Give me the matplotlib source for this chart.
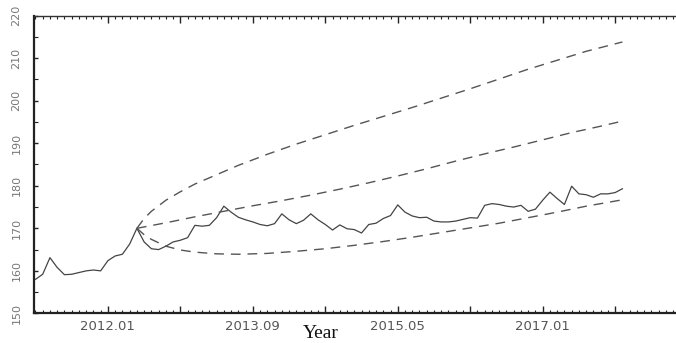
import numpy as np
import matplotlib.pyplot as plt
from matplotlib.ticker import MultipleLocator, FixedLocator


def month_index(label):
    """'2012.01' -> months since 2012.01"""
    y, m = label.split(".")
    return (int(y) - 2012) * 12 + int(m) - 1


# observed monthly series, 2011.03 .. 2017.12
obs_start = "2011.03"
observed = [
    158.0, 159.2, 163.1, 160.8, 159.1, 159.2, 159.6, 160.0, 160.2, 160.0,
    162.4, 163.5, 163.9, 166.3, 170.0, 166.8, 165.2, 165.0, 165.8, 166.8,
    167.2, 167.8, 170.7, 170.5, 170.7, 172.5, 175.2, 173.8, 172.6, 172.0,
    171.5, 170.9, 170.6, 171.1, 173.4, 172.0, 171.1, 171.9, 173.4, 172.0,
    170.9, 169.6, 170.8, 169.9, 169.7, 168.9, 170.9, 171.2, 172.3, 173.0,
    175.5, 173.8, 172.9, 172.5, 172.6, 171.7, 171.5, 171.5, 171.7, 172.1,
    172.5, 172.4, 175.4, 175.8, 175.6, 175.2, 175.0, 175.4, 174.0, 174.5,
    176.6, 178.5, 177.0, 175.6, 179.9, 178.1, 177.9, 177.3, 178.1, 178.1,
    178.4, 179.3,
]

# forecast curves (months since 2012.01)
fc_x = [4, 5, 6, 8, 10, 12, 15, 18, 22, 26, 30, 34, 38, 42, 46, 50, 54, 58, 62, 66, 71]
fc_upper = [170.0, 172.3, 174.0, 176.6, 178.6, 180.4, 182.6, 184.8, 187.4, 189.8, 192.0,
            194.2, 196.3, 198.4, 200.6, 202.8, 205.1, 207.4, 209.5, 211.6, 213.8]
fc_lower = [170.0, 168.5, 167.4, 165.8, 164.9, 164.4, 164.0, 163.9, 164.1, 164.6, 165.2,
            166.0, 166.9, 167.9, 169.0, 170.1, 171.2, 172.5, 173.8, 175.2, 176.7]
mid_x = [4, 8, 12, 16, 20, 24, 28, 32, 36, 40, 44, 48, 52, 56, 60, 64, 68, 71]
fc_mid = [170.0, 171.3, 172.7, 174.0, 175.3, 176.5, 177.8, 179.2, 180.7, 182.3,
          184.0, 185.8, 187.5, 189.1, 190.8, 192.5, 194.0, 195.2]

tick_labels = ["2012.01", "2013.09", "2015.05", "2017.01"]

fig = plt.figure(figsize=(6.76, 3.43), dpi=100)
ax = fig.add_axes([34 / 676, 29.6 / 343, 642 / 676, 297.8 / 343])

t_obs = month_index(obs_start) + np.arange(len(observed))
ax.plot(t_obs, observed, color="#444444", lw=0.9)

dash = dict(color="#555555", lw=1.0, linestyle=(0, (7, 5)))
ax.plot(fc_x, fc_upper, **dash)
ax.plot(mid_x, fc_mid, **dash)
ax.plot(fc_x, fc_lower, **dash)

ax.set_xlim(-10.2, 78.4)
ax.set_ylim(150, 220)

# x ticks: major every 10 months, labels every 20, minor every month
major_x = list(range(0, 80, 10))
ax.xaxis.set_major_locator(FixedLocator(major_x))
lab = {month_index(s): s for s in tick_labels}
ax.set_xticklabels([lab.get(m, "") for m in major_x])
ax.xaxis.set_minor_locator(MultipleLocator(1))
ax.yaxis.set_major_locator(MultipleLocator(10))
ax.yaxis.set_minor_locator(MultipleLocator(5))

ax.tick_params(axis="x", which="both", direction="in", top=True, bottom=True,
               colors="#222222", labelcolor="#555555", labelsize=9.5, pad=5)
ax.tick_params(axis="x", which="major", length=5, width=1)
ax.tick_params(axis="x", which="minor", length=2.5, width=0.8)
ax.tick_params(axis="y", which="both", direction="in", left=True, right=False,
               colors="#222222", labelcolor="#777777", labelsize=8, pad=9)
ax.tick_params(axis="y", which="major", length=3, width=1)
ax.tick_params(axis="y", which="minor", length=3, width=0.8)
for lbl in ax.get_yticklabels():
    lbl.set_rotation(90)
    lbl.set_va("center")

ax.spines["right"].set_visible(False)
for s in ["left", "bottom"]:
    ax.spines[s].set_linewidth(1.6)
    ax.spines[s].set_color("#222222")
ax.spines["top"].set_linewidth(1.0)
ax.spines["top"].set_color("#333333")

fig.text(321 / 676, 1 - 333 / 343, "Year", family="Liberation Serif", fontsize=14,
         ha="center", va="center", color="#111111")

fig.savefig("out.png", dpi=100)
